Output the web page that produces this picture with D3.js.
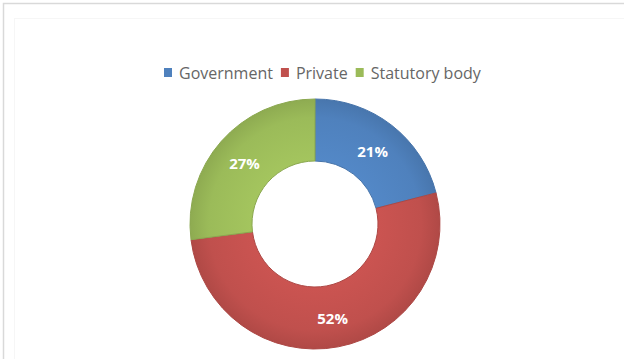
<!DOCTYPE html>
<html>
<head>
<meta charset="utf-8">
<script src="https://cdn.jsdelivr.net/npm/d3@7"></script>
<style>
  html, body { margin: 0; padding: 0; background: #fff; }
  svg { display: block; }
</style>
</head>
<body>
<svg id="chart" width="624" height="359"></svg>
<script>
// Ownership share of organisations
const categories = ["Government", "Private", "Statutory body"];
const shares = [21, 52, 27];
const colors = ["#4f81bd", "#c0504d", "#9bbb59"];

const W = 624, H = 359;
const svg = d3.select("#chart");

// chart frame
svg.append("rect")
  .attr("x", 3.5).attr("y", 3.5)
  .attr("width", W + 10).attr("height", H + 10)
  .attr("fill", "#fff")
  .attr("stroke", "#d9d9d9").attr("stroke-width", 1.5);
svg.append("rect")
  .attr("x", 14.5).attr("y", 18.5)
  .attr("width", W + 10).attr("height", H + 10)
  .attr("fill", "none")
  .attr("stroke", "#f6f6f6").attr("stroke-width", 1);

const cx = 315, cy = 224, outerR = 125, innerR = 63;

// soft radial shading per slice (centred on the ring's centre)
const defs = svg.append("defs");
colors.forEach((c, i) => {
  const grad = defs.append("radialGradient")
    .attr("id", "grad" + i)
    .attr("gradientUnits", "userSpaceOnUse")
    .attr("cx", 0).attr("cy", 0).attr("r", outerR);
  grad.append("stop").attr("offset", "50%").attr("stop-color", d3.color(c).brighter(0.15));
  grad.append("stop").attr("offset", "85%").attr("stop-color", c);
  grad.append("stop").attr("offset", "100%").attr("stop-color", d3.color(c).darker(0.25));
});

const pie = d3.pie().value(d => d.v).sort(null);
const arcs = pie(categories.map((k, i) => ({ k, v: shares[i], i })));
const arc = d3.arc().innerRadius(innerR).outerRadius(outerR);
const midR = (innerR + outerR) / 2;
const labelArc = d3.arc().innerRadius(midR).outerRadius(midR);

const g = svg.append("g").attr("transform", `translate(${cx},${cy})`);

g.selectAll("path.slice")
  .data(arcs)
  .join("path")
  .attr("class", "slice")
  .attr("d", arc)
  .attr("fill", d => `url(#grad${d.data.i})`)
  .attr("stroke", d => d3.color(colors[d.data.i]).darker(0.3))
  .attr("stroke-width", 1);

g.selectAll("text.lbl")
  .data(arcs)
  .join("text")
  .attr("class", "lbl")
  .attr("transform", d => { const [x, y] = labelArc.centroid(d); return `translate(${x},${y + 2})`; })
  .attr("text-anchor", "middle")
  .attr("dy", "0.35em")
  .attr("fill", "#fff")
  .attr("font-family", "'Open Sans', sans-serif")
  .attr("font-weight", "bold")
  .attr("font-size", 15)
  .text(d => d.data.v + "%");

// legend
const legend = svg.append("g").attr("font-family", "'Open Sans', sans-serif").attr("font-size", 16);
let lx = 164;
categories.forEach((k, i) => {
  legend.append("rect")
    .attr("x", lx).attr("y", 68)
    .attr("width", 8).attr("height", 9)
    .attr("fill", colors[i]);
  const t = legend.append("text")
    .attr("x", lx + 15).attr("y", 73)
    .attr("dy", "0.35em")
    .attr("fill", "#666")
    .text(k);
  lx += 15 + t.node().getComputedTextLength() + 8;
});
</script>
</body>
</html>
